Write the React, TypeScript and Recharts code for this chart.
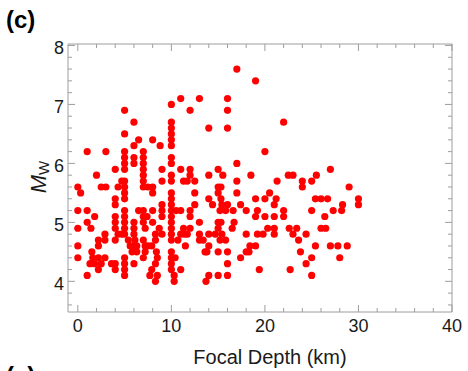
import { Scatter, ScatterChart, XAxis, YAxis } from "recharts";

// focal depth (km) and moment magnitude of each event
const quakes: [number, number][] = [
  [17, 7.6], [19, 7.4], [11, 7.1], [13, 7.1], [16, 7.1], [10, 7.0],
  [5, 6.9], [12, 6.9], [16, 6.9], [6, 6.7], [10, 6.7], [22, 6.7],
  [10, 6.6], [14, 6.6], [16, 6.6], [5, 6.5], [10, 6.5], [6.5, 6.4],
  [8, 6.4], [10, 6.4], [6, 6.3], [8.8, 6.3], [10, 6.3],
  [1, 6.2], [3, 6.2], [5, 6.2], [7, 6.2], [20, 6.2],
  [5, 6.1], [6, 6.1], [7, 6.1], [10, 6.1],
  [5, 6.0], [6, 6.0], [7, 6.0], [10, 6.0], [17, 6.0],
  [4, 5.9], [5, 5.9], [7, 5.9], [9, 5.9], [11, 5.9], [12, 5.9], [15, 5.9], [27, 5.9],
  [2, 5.8], [7, 5.8], [10, 5.8], [12, 5.8], [14, 5.8], [15.5, 5.8], [18.5, 5.8],
  [22.5, 5.8], [23, 5.8], [25.5, 5.8],
  [4.7, 5.7], [5, 5.7], [7, 5.7], [9, 5.7], [10, 5.7], [11.3, 5.7], [11.7, 5.7],
  [12.5, 5.7], [17, 5.7], [21.3, 5.7], [24, 5.7], [25, 5.7],
  [0, 5.6], [2.5, 5.6], [3, 5.6], [4.3, 5.6], [5, 5.6], [7, 5.6], [7.5, 5.6],
  [8, 5.6], [15, 5.6], [15.3, 5.6], [24, 5.6], [29, 5.6],
  [0.3, 5.5], [5, 5.5], [8, 5.5], [10, 5.5], [12.5, 5.5], [15, 5.5], [17, 5.5], [20.5, 5.5],
  [4, 5.4], [5, 5.4], [10, 5.4], [14, 5.4], [15.3, 5.4], [19, 5.4], [20, 5.4],
  [21.2, 5.4], [25.4, 5.4], [26, 5.4], [26.7, 5.4], [30, 5.4],
  [4, 5.3], [9, 5.3], [10, 5.3], [12.5, 5.3], [14.4, 5.3], [15.4, 5.3], [16, 5.3],
  [17.4, 5.3], [21, 5.3], [28.3, 5.3], [30, 5.3],
  [0, 5.2], [1, 5.2], [5, 5.2], [6.5, 5.2], [7, 5.2], [8, 5.2], [9, 5.2], [10, 5.2],
  [10.5, 5.2], [11, 5.2], [12, 5.2], [15.2, 5.2], [15.8, 5.2], [16.6, 5.2], [18, 5.2],
  [19.2, 5.2], [22, 5.2], [25, 5.2], [27.3, 5.2], [28.2, 5.2],
  [1.8, 5.1], [4, 5.1], [5, 5.1], [7, 5.1], [7.4, 5.1], [9, 5.1], [10, 5.1], [12, 5.1],
  [19, 5.1], [20, 5.1], [21, 5.1], [22, 5.1], [26.4, 5.1],
  [1, 5.0], [4, 5.0], [5, 5.0], [6, 5.0], [7, 5.0], [8, 5.0], [10, 5.0], [13, 5.0],
  [15, 5.0], [15.3, 5.0], [16.7, 5.0],
  [0, 4.9], [1.4, 4.9], [4, 4.9], [5, 4.9], [6, 4.9], [7.2, 4.9], [8.7, 4.9], [10, 4.9],
  [11.3, 4.9], [12, 4.9], [15, 4.9], [16.5, 4.9], [20.3, 4.9], [21, 4.9], [22.6, 4.9],
  [23.4, 4.9], [26, 4.9], [26.5, 4.9],
  [2.9, 4.8], [4.3, 4.8], [4.7, 4.8], [5, 4.8], [6, 4.8], [8.3, 4.8], [9, 4.8], [10, 4.8],
  [11, 4.8], [11.4, 4.8], [11.7, 4.8], [13, 4.8], [14, 4.8], [14.7, 4.8], [15.4, 4.8],
  [18, 4.8], [19.2, 4.8], [19.8, 4.8], [21, 4.8], [23, 4.8], [24.4, 4.8],
  [2.2, 4.7], [2.9, 4.7], [4, 4.7], [5.4, 4.7], [6.1, 4.7], [7, 4.7], [8.3, 4.7],
  [10, 4.7], [10.7, 4.7], [13, 4.7], [13.4, 4.7], [15.2, 4.7], [15.8, 4.7], [23.6, 4.7],
  [0, 4.6], [2.2, 4.6], [5.6, 4.6], [6, 4.6], [6.3, 4.6], [7.2, 4.6], [7.5, 4.6],
  [7.9, 4.6], [11.5, 4.6], [14, 4.6], [18.4, 4.6], [19, 4.6], [25.4, 4.6], [27, 4.6],
  [27.8, 4.6], [28.8, 4.6],
  [1.5, 4.5], [5.8, 4.5], [6.3, 4.5], [7.2, 4.5], [8.4, 4.5], [10, 4.5], [13.6, 4.5],
  [13.8, 4.5], [15, 4.5], [16, 4.5], [18, 4.5], [18.3, 4.5], [23.8, 4.5],
  [0, 4.4], [1.6, 4.4], [2.2, 4.4], [2.9, 4.4], [5, 4.4], [7, 4.4], [8.5, 4.4],
  [10, 4.4], [10.4, 4.4], [17.4, 4.4], [25, 4.4], [28, 4.4],
  [1.3, 4.3], [1.8, 4.3], [2.5, 4.3], [3.6, 4.3], [4, 4.3], [5, 4.3], [6, 4.3],
  [8.3, 4.3], [10, 4.3], [16, 4.3], [24.4, 4.3],
  [2.2, 4.2], [4, 4.2], [5, 4.2], [7.9, 4.2], [10, 4.2], [11, 4.2], [19.4, 4.2], [22.7, 4.2],
  [1, 4.1], [5, 4.1], [7.7, 4.1], [8.5, 4.1], [10.3, 4.1], [14, 4.1], [15, 4.1],
  [16, 4.1], [25, 4.1],
  [8.3, 4.0], [10.3, 4.0], [13.7, 4.0],
];

const depthTicks = [0, 2, 4, 6, 8, 10, 12, 14, 16, 18, 20, 22, 24, 26, 28, 30, 32, 34, 36, 38, 40];
const depthLabels = [0, 10, 20, 30, 40];
const mwTicks = [
  3.6, 3.8, 4, 4.2, 4.4, 4.6, 4.8, 5, 5.2, 5.4, 5.6, 5.8,
  6, 6.2, 6.4, 6.6, 6.8, 7, 7.2, 7.4, 7.6, 7.8, 8,
];
const mwLabels = [4, 5, 6, 7, 8];

const data = quakes.map(([depth, mw]) => ({ depth, mw }));

const FRAME = "#9e9e9e";
const FONT = "'Liberation Sans', Arial, Helvetica, sans-serif";
const MAJOR = 7;
const MINOR = 4;

const isMajor = (v: number, majors: number[]) => majors.some((m) => Math.abs(m - v) < 1e-6);

// frame ticks point into the plot; only bottom and left carry numbers
function BottomTick({ x, y, payload }: any) {
  const major = isMajor(payload.value, depthLabels);
  return (
    <g>
      <line x1={x} x2={x} y1={y} y2={y - (major ? MAJOR : MINOR)} stroke={FRAME} />
      {major && (
        <text x={x} y={y + 20} textAnchor="middle" fontSize={18} fill="#1a1a1a" fontFamily={FONT}>
          {payload.value}
        </text>
      )}
    </g>
  );
}

function TopTick({ x, y, payload }: any) {
  const major = isMajor(payload.value, depthLabels);
  return <line x1={x} x2={x} y1={y} y2={y + (major ? MAJOR : MINOR)} stroke={FRAME} />;
}

function LeftTick({ x, y, payload }: any) {
  const major = isMajor(payload.value, mwLabels);
  return (
    <g>
      <line x1={x} x2={x + (major ? MAJOR : MINOR)} y1={y} y2={y} stroke={FRAME} />
      {major && (
        <text x={x - 4} y={y + 8.5} textAnchor="end" fontSize={18} fill="#1a1a1a" fontFamily={FONT}>
          {payload.value}
        </text>
      )}
    </g>
  );
}

function RightTick({ x, y, payload }: any) {
  const major = isMajor(payload.value, mwLabels);
  return <line x1={x} x2={x - (major ? MAJOR : MINOR)} y1={y} y2={y} stroke={FRAME} />;
}

const Dot = ({ cx, cy }: any) => <circle cx={cx} cy={cy} r={3.6} fill="#ff0000" />;

export default function App() {
  return (
    <div style={{ position: "absolute", left: 0, top: 0, width: 468, height: 371, background: "#fff" }}>
      <ScatterChart
        width={468}
        height={371}
        margin={{ top: 43, right: 15, bottom: 29, left: 28 }}
        style={{ fontFamily: FONT }}
      >
        <XAxis
          xAxisId="bottom"
          dataKey="depth"
          type="number"
          domain={[-1.05, 40]}
          ticks={depthTicks}
          interval={0}
          allowDataOverflow
          height={30}
          tickSize={0}
          tickMargin={0}
          tickLine={false}
          axisLine={{ stroke: FRAME }}
          tick={BottomTick}
        />
        <XAxis
          xAxisId="top"
          orientation="top"
          dataKey="depth"
          type="number"
          domain={[-1.05, 40]}
          ticks={depthTicks}
          interval={0}
          allowDataOverflow
          height={1}
          tickSize={0}
          tickMargin={0}
          tickLine={false}
          axisLine={{ stroke: FRAME }}
          tick={TopTick}
        />
        <YAxis
          yAxisId="left"
          dataKey="mw"
          type="number"
          domain={[3.48, 8.025]}
          ticks={mwTicks}
          interval={0}
          allowDataOverflow
          width={40}
          tickSize={0}
          tickMargin={0}
          tickLine={false}
          axisLine={{ stroke: FRAME }}
          tick={LeftTick}
        />
        <YAxis
          yAxisId="right"
          orientation="right"
          dataKey="mw"
          type="number"
          domain={[3.48, 8.025]}
          ticks={mwTicks}
          interval={0}
          allowDataOverflow
          width={1}
          tickSize={0}
          tickMargin={0}
          tickLine={false}
          axisLine={{ stroke: FRAME }}
          tick={RightTick}
        />
        <Scatter
          data={data}
          xAxisId="bottom"
          yAxisId="left"
          shape={Dot}
          isAnimationActive={false}
        />
        <Scatter
          data={data}
          xAxisId="top"
          yAxisId="right"
          shape={() => <g />}
          isAnimationActive={false}
        />
        <text x={6} y={28} fontSize={24} fontWeight="bold" fill="#000" fontFamily={FONT}>
          (c)
        </text>
        <text x={270} y={364} textAnchor="middle" fontSize={20} fill="#1a1a1a" fontFamily={FONT}>
          Focal Depth (km)
        </text>
        <text
          x={38}
          y={177}
          textAnchor="middle"
          fontSize={22}
          fill="#1a1a1a"
          fontFamily={FONT}
          transform="rotate(-90 38 177)"
          dominantBaseline="central"
        >
          <tspan fontStyle="italic">M</tspan>
          <tspan fontSize={15} dy={5}>W</tspan>
        </text>
        <text x={6} y={384} fontSize={24} fontWeight="bold" fill="#000" fontFamily={FONT}>
          (e)
        </text>
      </ScatterChart>
    </div>
  );
}
